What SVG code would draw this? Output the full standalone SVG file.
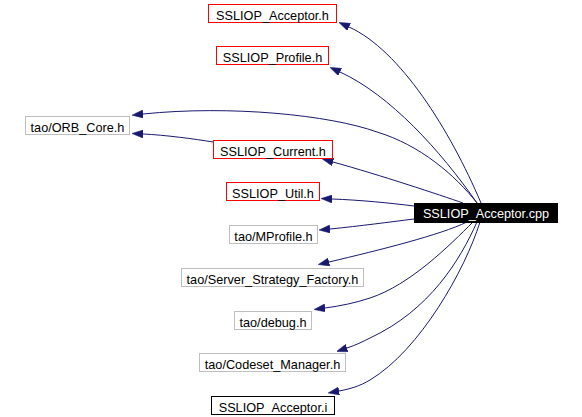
<svg xmlns="http://www.w3.org/2000/svg" width="582" height="417" viewBox="0 0 582 417">
<style>
.n rect{fill:#ffffff;stroke-width:1}
.red rect{stroke:#ff0000}
.gray rect{stroke:#bfbfbf}
.blk rect{stroke:#000000}
text{font-family:"Liberation Sans",Arial,Helvetica,sans-serif;font-size:12.7px;text-anchor:middle;fill:#000000}
.cur rect{fill:#000000;stroke:none}
.cur text{fill:#ffffff}
.e path{fill:none;stroke:#191970;stroke-width:1;marker-end:url(#ah)}
</style>
<defs>
<marker id="ah" viewBox="0 0 11 8" refX="0" refY="4" markerUnits="userSpaceOnUse" markerWidth="11" markerHeight="8" orient="auto">
<path d="M0,0 L11,4 L0,8 Z" fill="#191970" stroke="#191970" stroke-width="0.5"/>
</marker>
</defs>
<rect width="582" height="417" fill="#ffffff"/>
<g id="edges" class="e">
<path d="M481,203 C450,130 400,50 349,27"/>
<path d="M477,203 C440,150 390,95 340,72"/>
<path d="M477,203 C455,175 420,145 377,132 C330,115 230,105 143,114"/>
<path d="M213,142 C195,139 165,135 143,134"/>
<path d="M463,203 C440,195 380,175 333,162"/>
<path d="M414,206 C390,203 360,200 332,199"/>
<path d="M414,219 C390,222 360,226 330,229"/>
<path d="M467,222 C440,235 380,250 329,262"/>
<path d="M473,222 C450,245 410,285 370,298 C355,303 340,306 325,308"/>
<path d="M477,222 C460,260 430,310 370,338 C362,342 356,345 347,348"/>
<path d="M480,222 C465,270 420,350 370,380 C360,386 350,389 339,391"/>
</g>
<g id="n_acceptor_h" class="n red"><rect x="208.5" y="4.5" width="128" height="18"/><text x="272.5" y="19.5">SSLIOP_Acceptor.h</text></g>
<g id="n_profile_h" class="n red"><rect x="216.5" y="46.5" width="112" height="18"/><text x="272.5" y="61.5">SSLIOP_Profile.h</text></g>
<g id="n_orb_core_h" class="n gray"><rect x="25.5" y="116.5" width="104" height="18"/><text x="77.5" y="131.5">tao/ORB_Core.h</text></g>
<g id="n_current_h" class="n red"><rect x="213.5" y="140.5" width="119" height="18"/><text x="273" y="155.5">SSLIOP_Current.h</text></g>
<g id="n_util_h" class="n red"><rect x="226.5" y="182.5" width="93" height="18"/><text x="273" y="197.5">SSLIOP_Util.h</text></g>
<g id="n_acceptor_cpp" class="n cur"><rect x="414" y="203" width="144" height="20"/><text x="486" y="218">SSLIOP_Acceptor.cpp</text></g>
<g id="n_mprofile_h" class="n gray"><rect x="229.5" y="225.5" width="88" height="18"/><text x="273.5" y="240.5">tao/MProfile.h</text></g>
<g id="n_server_strategy_factory_h" class="n gray"><rect x="181.5" y="268.5" width="182" height="18"/><text x="272.5" y="283.5">tao/Server_Strategy_Factory.h</text></g>
<g id="n_debug_h" class="n gray"><rect x="234.5" y="311.5" width="77" height="18"/><text x="273" y="326.5">tao/debug.h</text></g>
<g id="n_codeset_manager_h" class="n gray"><rect x="199.5" y="353.5" width="146" height="18"/><text x="272.5" y="368.5">tao/Codeset_Manager.h</text></g>
<g id="n_acceptor_i" class="n blk"><rect x="211.5" y="396.5" width="123" height="18"/><text x="273" y="411.5">SSLIOP_Acceptor.i</text></g>
</svg>
